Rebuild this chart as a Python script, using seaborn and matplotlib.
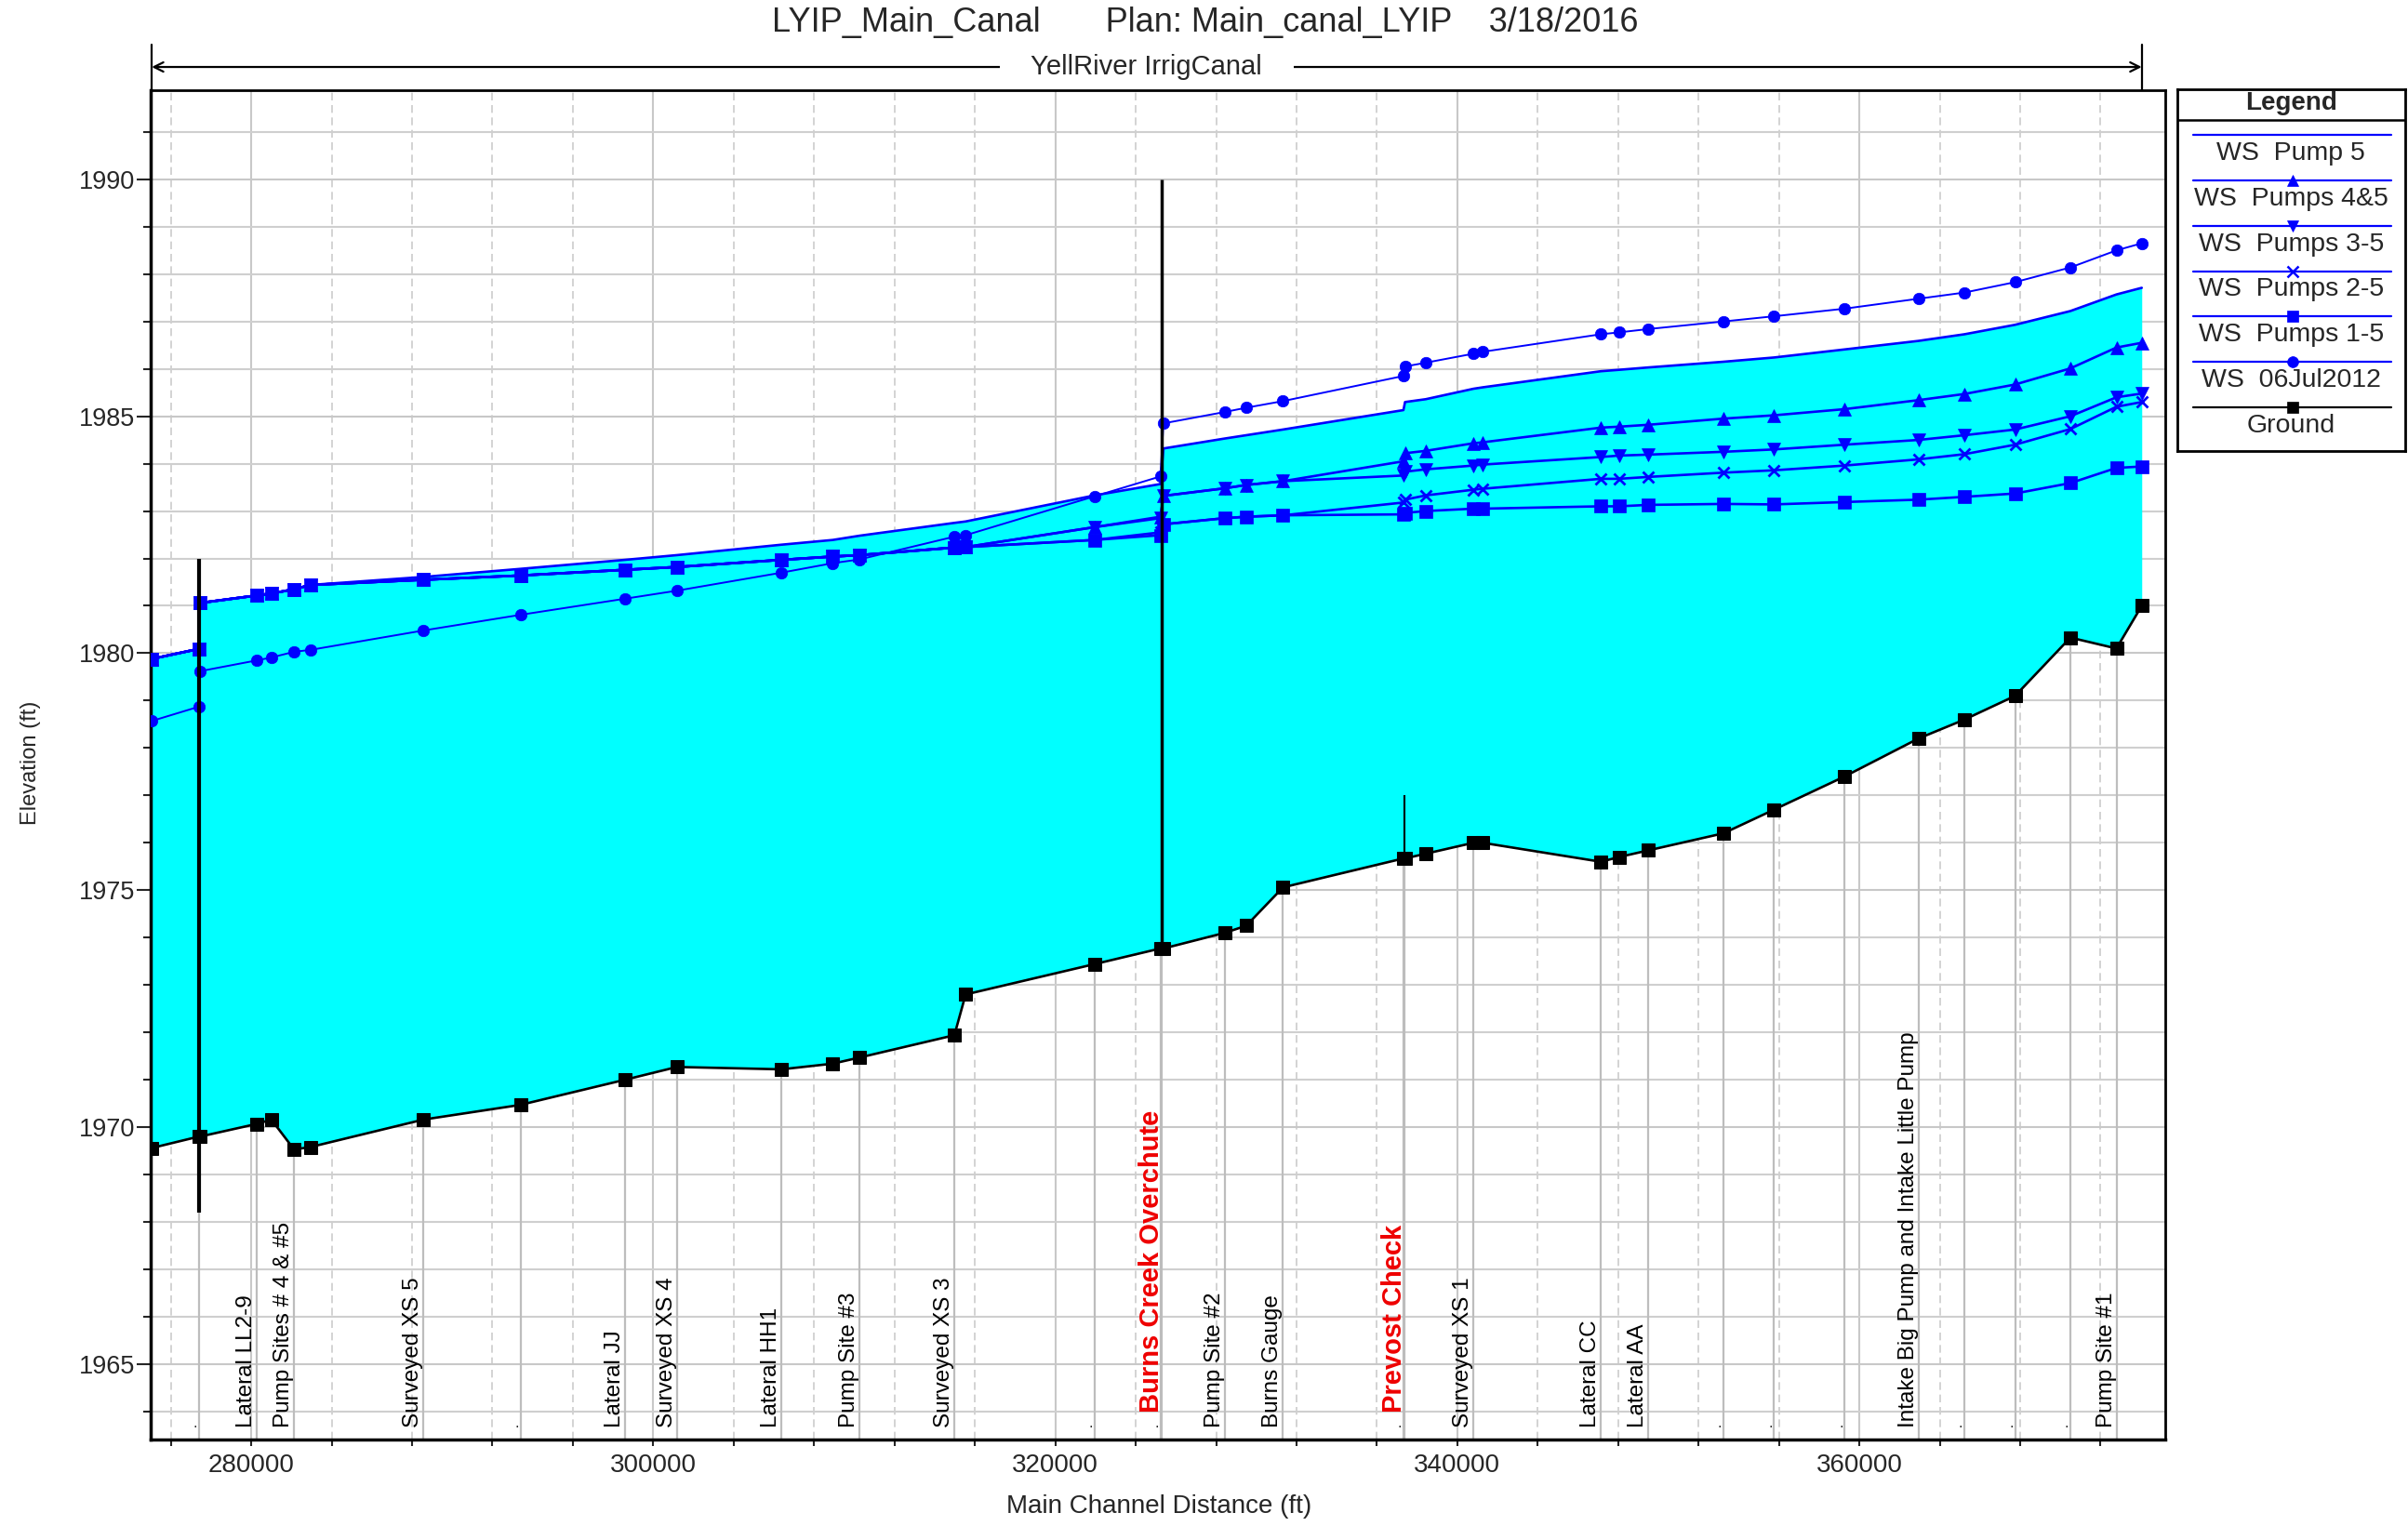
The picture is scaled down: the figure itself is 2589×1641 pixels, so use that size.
import numpy as np
import pandas as pd
import matplotlib
matplotlib.use("Agg")
import matplotlib.pyplot as plt
import seaborn as sns
from matplotlib import ticker, transforms

# river stations along the canal (ft), paired values are up/downstream faces of structures
stations = [275050, 277380, 277440, 280290, 281000, 282130, 282940, 288570, 293390,
            298590, 301180, 306380, 308930, 310270, 314980, 315540, 321950, 325230,
            325380, 328430, 329500, 331330, 337320, 337400, 338430, 340800, 341260,
            347140, 348050, 349500, 353240, 355760, 359270, 362940, 365230, 367750,
            370500, 372790, 374050]

ground = [1969.56, 1969.80, 1969.80, 1970.07, 1970.16, 1969.53, 1969.58, 1970.16, 1970.47,
          1971.00, 1971.27, 1971.22, 1971.34, 1971.47, 1971.94, 1972.80, 1973.44, 1973.77,
          1973.77, 1974.10, 1974.25, 1975.06, 1975.67, 1975.67, 1975.77, 1976.00, 1976.00,
          1975.60, 1975.70, 1975.84, 1976.20, 1976.70, 1977.40, 1978.20, 1978.60, 1979.10,
          1980.33, 1980.10, 1981.00]

ws_pump5 = [1979.88, 1980.09, 1981.06, 1981.22, 1981.26, 1981.35, 1981.44, 1981.61, 1981.78,
            1981.97, 1982.07, 1982.29, 1982.39, 1982.48, 1982.75, 1982.78, 1983.33, 1983.57,
            1984.32, 1984.53, 1984.60, 1984.72, 1985.13, 1985.30, 1985.36, 1985.58, 1985.61,
            1985.95, 1985.98, 1986.03, 1986.15, 1986.24, 1986.41, 1986.59, 1986.73, 1986.93,
            1987.22, 1987.57, 1987.71]

# downstream of Burns Creek all pump profiles sit on top of each other
pumps_lower = [1979.88, 1980.09, 1981.06, 1981.22, 1981.26, 1981.35, 1981.44, 1981.55,
               1981.64, 1981.76, 1981.82, 1981.97, 1982.04, 1982.07, 1982.23, 1982.24]

ws_pumps45 = pumps_lower + [1982.66, 1982.88, 1983.32, 1983.48, 1983.55, 1983.63, 1984.05,
                            1984.22, 1984.27, 1984.43, 1984.45, 1984.76, 1984.78, 1984.82,
                            1984.95, 1985.02, 1985.15, 1985.34, 1985.47, 1985.67, 1986.01,
                            1986.45, 1986.55]
ws_pumps35 = pumps_lower + [1982.66, 1982.85, 1983.32, 1983.48, 1983.55, 1983.63, 1983.75,
                            1983.83, 1983.88, 1983.96, 1983.98, 1984.14, 1984.17, 1984.19,
                            1984.25, 1984.30, 1984.40, 1984.50, 1984.60, 1984.72, 1985.00,
                            1985.40, 1985.48]
ws_pumps25 = pumps_lower + [1982.39, 1982.55, 1982.72, 1982.85, 1982.88, 1982.91, 1983.18,
                            1983.24, 1983.33, 1983.45, 1983.47, 1983.68, 1983.68, 1983.72,
                            1983.81, 1983.86, 1983.96, 1984.09, 1984.20, 1984.40, 1984.73,
                            1985.20, 1985.30]
ws_pumps15 = pumps_lower + [1982.39, 1982.49, 1982.72, 1982.85, 1982.88, 1982.91, 1982.93,
                            1982.96, 1983.00, 1983.05, 1983.05, 1983.10, 1983.10, 1983.13,
                            1983.15, 1983.14, 1983.19, 1983.24, 1983.30, 1983.37, 1983.59,
                            1983.91, 1983.94]
ws_jul2012 = [1978.57, 1978.87, 1979.62, 1979.85, 1979.91, 1980.03, 1980.07, 1980.48, 1980.81,
              1981.15, 1981.32, 1981.70, 1981.90, 1981.98, 1982.46, 1982.49, 1983.31, 1983.73,
              1984.85, 1985.09, 1985.18, 1985.32, 1985.85, 1986.05, 1986.13, 1986.32, 1986.36,
              1986.73, 1986.77, 1986.84, 1987.00, 1987.11, 1987.27, 1987.48, 1987.61, 1987.83,
              1988.14, 1988.50, 1988.65]

profile_names = ['WS  Pump 5', 'WS  Pumps 4&5', 'WS  Pumps 3-5', 'WS  Pumps 2-5',
                 'WS  Pumps 1-5', 'WS  06Jul2012']
profile_markers = ['', '^', 'v', 'x', 's', 'o']
profile_sizes = [0, 9.5, 9.5, 9, 10, 9]

# inline structures (bridge, overchute, check)
struct_x = [277410, 325305, 337360]
struct_top = [1982.0, 1990.0, 1977.0]
struct_bot = [1968.2, 1973.77, 1975.67]

# cross section labels
label_names = ['Lateral LL2-9', 'Pump Sites # 4 & #5', 'Surveyed XS 5', 'Lateral JJ',
               'Surveyed XS 4', 'Lateral HH1', 'Pump Site #3', 'Surveyed XS 3',
               'Burns Creek Overchute', 'Pump Site #2', 'Burns Gauge', 'Prevost Check',
               'Surveyed XS 1', 'Lateral CC', 'Lateral AA',
               'Intake Big Pump and Intake Little Pump', 'Pump Site #1']
label_x = [280290, 282130, 288570, 298590, 301180, 306380, 310270, 314980, 325300, 328430,
           331330, 337360, 340800, 347140, 349500, 362940, 372790]
highlight = ['Burns Creek Overchute', 'Prevost Check']
dot_x = [277410, 293390, 321950, 325230, 337320, 353240, 355760, 359270, 365230, 367750,
         370500]

ws = pd.DataFrame({
    'station': stations * len(profile_names),
    'elev': ws_pump5 + ws_pumps45 + ws_pumps35 + ws_pumps25 + ws_pumps15 + ws_jul2012,
    'profile': np.repeat(profile_names, len(stations)),
})
gr = pd.DataFrame({'station': stations, 'elev': ground})

sns.set_style("white")
plt.rcParams['font.family'] = ['Liberation Sans', 'DejaVu Sans']

fig = plt.figure(figsize=(25.89, 16.41), dpi=100)
ax = fig.add_axes([0.0626, 0.0567, 0.8366, 0.8842])
ax.set_xlim(275000, 375220)
ax.set_ylim(1963.41, 1991.88)

ax.xaxis.set_major_locator(ticker.MultipleLocator(20000))
ax.xaxis.set_minor_locator(ticker.MultipleLocator(4000))
ax.yaxis.set_major_locator(ticker.MultipleLocator(5))
ax.yaxis.set_minor_locator(ticker.MultipleLocator(1))
ax.xaxis.set_major_formatter(ticker.FuncFormatter(lambda v, _: f'{int(v)}'))
ax.yaxis.set_major_formatter(ticker.FuncFormatter(lambda v, _: f'{int(v)}'))
ax.grid(which='major', axis='both', color='#c8c8c8', lw=1.5)
ax.grid(which='minor', axis='y', color='#cfcfcf', lw=1.5)
ax.grid(which='minor', axis='x', color='#cccccc', lw=1.2, ls=(0, (5, 3)))
ax.set_axisbelow(True)
ax.tick_params(axis='y', which='major', direction='out', length=11, width=1.5,
               labelsize=19.5, pad=1, left=True)
ax.tick_params(axis='y', which='minor', direction='out', length=6, width=1.5, left=True)
ax.tick_params(axis='x', which='both', direction='out', length=5, width=1.5,
               labelsize=20, pad=6, bottom=True)
for side, s in ax.spines.items():
    s.set_color('black')
    s.set_linewidth(2.5 if side in ('left', 'bottom') else 2)

# water between ground and the Pump 5 profile
ax.fill_between(stations, ground, ws_pump5, color='#00ffff', lw=0, zorder=2)

# cross section lines under the ground
ax.vlines(label_x + dot_x, 1963.41, np.interp(label_x + dot_x, stations, ground),
          colors='#bdbdbd', lw=1.6, zorder=1.5)

for name, mk, ms in zip(profile_names, profile_markers, profile_sizes):
    sub = ws[ws['profile'] == name]
    kw = dict(marker=mk, markersize=ms, markeredgecolor='blue', markerfacecolor='blue',
              markeredgewidth=2 if mk == 'x' else 0.5) if mk else {}
    sns.lineplot(data=sub, x='station', y='elev', color='blue', sort=False, estimator=None,
                 lw=1.4 if name == 'WS  06Jul2012' else 1.9, ax=ax, zorder=4, **kw)

sns.lineplot(data=gr, x='station', y='elev', color='black', sort=False, estimator=None,
             lw=1.9, marker='s', markersize=10, markeredgecolor='black', ax=ax, zorder=5)

ax.vlines(struct_x, struct_bot, struct_top, colors='black', lw=[3, 2.5, 1.5], zorder=6)

for name, sx in zip(label_names, label_x):
    red = name in highlight
    ax.annotate(name, xy=(sx, 1963.41), xytext=(-11, 29 if red else 13),
                textcoords='offset pixels', rotation=90, ha='center', va='bottom',
                fontsize=21 if red else 17.5, color='#ee0000' if red else 'black',
                fontweight='bold' if red else 'normal', zorder=7)
for sx in dot_x:
    ax.annotate('.', xy=(sx, 1963.41), xytext=(-4, 10), textcoords='offset pixels',
                ha='center', va='bottom', fontsize=12, zorder=7)

ax.set_xlabel('')
ax.set_ylabel('')
fig.text(0.4815, 0.0128, 'Main Channel Distance (ft)', ha='center', va='center', fontsize=20)
fig.text(0.0127, 0.5003, 'Elevation (ft)', ha='center', va='center', fontsize=17,
         rotation=90)
fig.text(0.5006, 0.985, 'LYIP_Main_Canal       Plan: Main_canal_LYIP    3/18/2016',
         ha='center', va='center', fontsize=26)

# reach band above the plot
trans = transforms.blended_transform_factory(ax.transData, ax.transAxes)
for sx in (stations[0], stations[-1]):
    ax.plot([sx, sx], [1.0, 1.034], transform=trans, color='black', lw=1.6, clip_on=False)
ax.annotate('', xy=(stations[0], 1.0172), xytext=(stations[-1], 1.0172), xycoords=trans,
            textcoords=trans, arrowprops=dict(arrowstyle='<->', lw=1.6, color='black',
                                              shrinkA=0, shrinkB=0, mutation_scale=18))
ax.text((stations[0] + stations[-1]) / 2, 1.0172, '    YellRiver IrrigCanal    ',
        transform=trans, ha='center', va='center', fontsize=21,
        bbox=dict(boxstyle='square,pad=0.05', fc='white', ec='none'))

# legend box
lg = fig.add_axes([0.9042, 0.7044, 0.0946, 0.2370])
lg.set_xlim(0, 1)
lg.set_ylim(0, 1)
lg.set_xticks([])
lg.set_yticks([])
for s in lg.spines.values():
    s.set_color('black')
    s.set_linewidth(2)
lg.axhline(0.915, color='black', lw=1.8)
lg.text(0.5, 0.963, 'Legend', ha='center', va='center', fontsize=20, fontweight='bold')
entries = list(zip(profile_names, profile_markers, ['blue'] * 6)) + [('Ground', 's', 'black')]
for i, (name, mk, col) in enumerate(entries):
    y = 0.874 - i * 0.1255
    lg.plot([0.07, 0.94], [y, y], color=col, lw=1.6)
    if mk:
        lg.plot([0.505], [y], marker=mk, color=col, markersize=8.5,
                markeredgewidth=1.8 if mk == 'x' else 0.5)
    lg.text(0.5, y - 0.051, name, ha='center', va='center', fontsize=20.5)

fig.savefig('out.png', dpi=100)
